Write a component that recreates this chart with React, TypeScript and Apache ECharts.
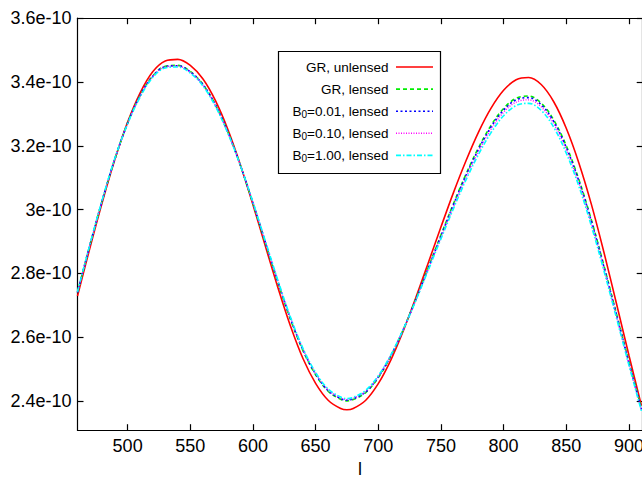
import React, { useEffect, useRef } from "react";
import * as echarts from "echarts";

// multipole l
const ell = [460, 470, 480, 490, 500, 510, 520, 530, 540, 550, 560, 570, 580, 590, 600, 610, 620, 630, 640, 650, 660, 670, 675, 680, 690, 700, 710, 720, 730, 740, 750, 760, 770, 780, 790, 800, 810, 820, 830, 840, 850, 860, 870, 880, 890, 900, 910];

// values in units of 1e-10
const grUnlensed = [2.729, 2.881, 3.026, 3.159, 3.274, 3.366, 3.432, 3.466, 3.471, 3.452, 3.41, 3.342, 3.251, 3.14, 3.015, 2.884, 2.754, 2.634, 2.532, 2.455, 2.402, 2.376, 2.372, 2.376, 2.402, 2.454, 2.528, 2.62, 2.724, 2.834, 2.945, 3.053, 3.153, 3.243, 3.318, 3.374, 3.407, 3.414, 3.392, 3.338, 3.255, 3.147, 3.017, 2.867, 2.706, 2.543, 2.385];
const grLensed = [2.74, 2.89, 3.032, 3.161, 3.271, 3.358, 3.419, 3.449, 3.452, 3.433, 3.393, 3.329, 3.243, 3.138, 3.019, 2.894, 2.77, 2.655, 2.557, 2.482, 2.43, 2.405, 2.4, 2.404, 2.426, 2.473, 2.54, 2.624, 2.719, 2.819, 2.92, 3.018, 3.111, 3.194, 3.264, 3.317, 3.349, 3.356, 3.334, 3.281, 3.2, 3.095, 2.968, 2.825, 2.674, 2.523, 2.377];
const b001Lensed = [2.74, 2.89, 3.032, 3.161, 3.271, 3.358, 3.418, 3.448, 3.451, 3.432, 3.392, 3.329, 3.243, 3.138, 3.021, 2.896, 2.772, 2.657, 2.559, 2.484, 2.432, 2.407, 2.402, 2.406, 2.428, 2.475, 2.541, 2.624, 2.718, 2.817, 2.917, 3.015, 3.107, 3.189, 3.259, 3.312, 3.344, 3.351, 3.329, 3.276, 3.195, 3.09, 2.964, 2.821, 2.671, 2.52, 2.374];
const b010Lensed = [2.741, 2.891, 3.033, 3.162, 3.269, 3.356, 3.417, 3.447, 3.45, 3.431, 3.391, 3.327, 3.241, 3.138, 3.022, 2.898, 2.774, 2.659, 2.561, 2.486, 2.434, 2.409, 2.404, 2.408, 2.43, 2.476, 2.542, 2.624, 2.716, 2.814, 2.913, 3.009, 3.101, 3.182, 3.252, 3.305, 3.337, 3.344, 3.322, 3.269, 3.188, 3.084, 2.958, 2.817, 2.667, 2.517, 2.372];
const b100Lensed = [2.742, 2.892, 3.034, 3.163, 3.269, 3.353, 3.414, 3.444, 3.447, 3.428, 3.388, 3.324, 3.239, 3.138, 3.023, 2.9, 2.777, 2.662, 2.564, 2.489, 2.437, 2.412, 2.407, 2.411, 2.433, 2.479, 2.544, 2.625, 2.715, 2.811, 2.908, 3.003, 3.093, 3.173, 3.241, 3.294, 3.326, 3.333, 3.311, 3.258, 3.177, 3.074, 2.949, 2.809, 2.661, 2.512, 2.368];

const xTicks = [500, 550, 600, 650, 700, 750, 800, 850, 900];
const yTicks = [2.4, 2.6, 2.8, 3.0, 3.2, 3.4, 3.6];

const FONT = "'Liberation Sans', Arial, Helvetica, sans-serif";

const seriesDefs = [
  { key: "GR, unlensed", data: grUnlensed, color: "#ff0000", dash: [] as number[], width: 1.6 },
  { key: "GR, lensed", data: grLensed, color: "#00ee00", dash: [4, 3], width: 1.6 },
  { key: "B0=0.01, lensed", data: b001Lensed, color: "#0000ff", dash: [2, 2.5], width: 1.6 },
  { key: "B0=0.10, lensed", data: b010Lensed, color: "#ff00ff", dash: [1, 1.5], width: 1.4 },
  { key: "B0=1.00, lensed", data: b100Lensed, color: "#00ffff", dash: [5, 2, 1.5, 2], width: 1.6 },
];

const legendRich = (label: string) => {
  if (label.startsWith("B0")) {
    return `{n|B}{s|0}{n|${label.slice(2)}}`;
  }
  return `{n|${label}}`;
};

export default function App() {
  const ref = useRef<HTMLDivElement>(null);
  useEffect(() => {
    if (!ref.current) return;
    const chart = echarts.init(ref.current, undefined, { renderer: "svg" });
    const axisLineStyle = { color: "#000", width: 1.2 };
    const rowY0 = 67;
    const rowStep = 22.1;
    const graphics: any[] = [
      {
        type: "rect",
        shape: { x: 278.5, y: 51.5, width: 162, height: 122 },
        style: { fill: "#fff", stroke: "#000", lineWidth: 1.2 },
        z: 100,
      },
    ];
    seriesDefs.forEach((s, i) => {
      const y = rowY0 + i * rowStep;
      graphics.push({
        type: "text",
        x: 388.5,
        y,
        z: 101,
        style: {
          text: legendRich(s.key),
          align: "right",
          verticalAlign: "middle",
          fill: "#000",
          rich: {
            n: { fontSize: 13.5, fontFamily: FONT, lineHeight: 16, fill: "#000" },
            s: { fontSize: 10, fontFamily: FONT, lineHeight: 8, verticalAlign: "bottom", fill: "#000" },
          },
        },
      });
      graphics.push({
        type: "line",
        z: 101,
        shape: { x1: 396, y1: y, x2: 433, y2: y },
        style: { stroke: s.color, lineWidth: s.width, lineDash: s.dash.length ? s.dash : null },
      });
    });

    chart.setOption({
      animation: false,
      grid: {
        left: 77.5,
        top: 18.2,
        right: 17.3,
        bottom: 46.8,
        containLabel: false,
        outerBoundsMode: "none",
      },
      xAxis: [
        {
          type: "value",
          min: 460,
          max: 911,
          position: "bottom",
          axisLine: { show: true, lineStyle: axisLineStyle },
          axisTick: { show: true, inside: true, length: 6, customValues: xTicks, lineStyle: axisLineStyle },
          axisLabel: { customValues: xTicks, fontSize: 18, margin: 7, color: "#000", fontFamily: FONT },
          splitLine: { show: false },
          name: "l",
          nameLocation: "middle",
          nameGap: 27,
          nameTextStyle: { fontSize: 18, color: "#000", fontFamily: FONT },
        },
        {
          type: "value",
          min: 460,
          max: 911,
          position: "top",
          axisLine: { show: true, lineStyle: axisLineStyle },
          axisTick: { show: true, inside: true, length: 6, customValues: xTicks, lineStyle: axisLineStyle },
          axisLabel: { show: false },
          splitLine: { show: false },
        },
      ],
      yAxis: [
        {
          type: "value",
          min: 2.308,
          max: 3.6,
          position: "left",
          axisLine: { show: true, lineStyle: axisLineStyle },
          axisTick: { show: true, inside: true, length: 6, customValues: yTicks, lineStyle: axisLineStyle },
          axisLabel: {
            customValues: yTicks,
            fontSize: 18,
            margin: 6,
            color: "#000",
            fontFamily: FONT,
            formatter: (v: number) => `${+v.toFixed(2)}e-10`,
          },
          splitLine: { show: false },
        },
        {
          type: "value",
          min: 2.308,
          max: 3.6,
          position: "right",
          axisLine: { show: true, lineStyle: axisLineStyle },
          axisTick: { show: true, inside: true, length: 6, customValues: yTicks, lineStyle: axisLineStyle },
          axisLabel: { show: false },
          splitLine: { show: false },
        },
      ],
      series: seriesDefs.map((s) => ({
        name: s.key,
        type: "line",
        xAxisIndex: 0,
        yAxisIndex: 0,
        data: ell.map((l, i) => [l, s.data[i]]),
        showSymbol: false,
        smooth: 0.35,
        clip: true,
        lineStyle: { color: s.color, width: s.width, type: s.dash.length ? s.dash : "solid" },
        itemStyle: { color: s.color },
      })),
      graphic: graphics,
    });
    return () => chart.dispose();
  }, []);
  return (
    <div style={{ position: "fixed", left: 0, top: 0, width: 642, height: 477, overflow: "hidden", background: "#fff" }}>
      <div ref={ref} style={{ width: 660, height: 477 }} />
    </div>
  );
}
